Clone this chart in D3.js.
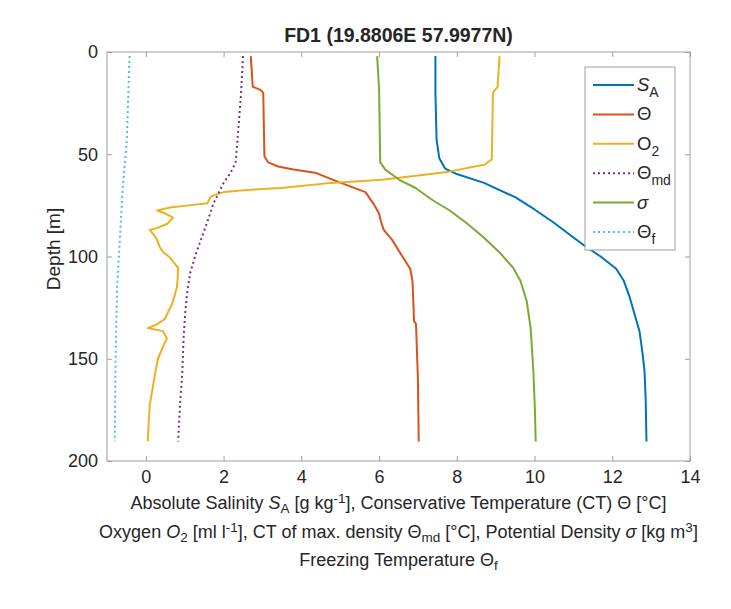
<!DOCTYPE html>
<html>
<head>
<meta charset="utf-8">
<script src="https://cdn.jsdelivr.net/npm/d3@7"></script>
<style>
  body { margin: 0; background: #fff; }
  text { font-family: "Liberation Sans", Arial, sans-serif; fill: #262626; }
</style>
</head>
<body>
<svg id="chart" width="731" height="609"></svg>
<script>
// profiles as [depth (m), value]
const saProfile = [[2, 7.45], [20, 7.45], [43, 7.48], [52, 7.55], [57, 7.7], [59.5, 7.98], [64, 8.7], [71, 9.5],
  [77, 10.0], [83.5, 10.5], [90, 10.95], [94.5, 11.27], [100, 11.7], [106, 12.1], [112, 12.3], [120, 12.45],
  [128, 12.57], [136.5, 12.7], [146, 12.77], [156, 12.83], [170, 12.86], [190.5, 12.88]];
const thetaProfile = [[2, 2.7], [17, 2.75], [18.5, 2.95], [20, 3.02], [51, 3.05], [54, 3.15], [56, 3.4], [57.5, 3.8],
  [59, 4.35], [63.5, 4.95], [68.5, 5.65], [74, 5.85], [79, 6.0], [83, 6.05], [87, 6.12], [92, 6.34],
  [100, 6.6], [106, 6.8], [112, 6.86], [131.5, 6.9], [133, 6.95], [160, 7.0], [190.5, 7.02]];
const o2Profile = [[2, 9.1], [17, 9.05], [20, 8.93], [52.5, 8.9], [55, 8.72], [58.5, 7.8], [60.5, 6.95], [62.5, 6.08],
  [64, 4.78], [66.5, 3.48], [67.5, 2.6], [68.5, 2.0], [70, 1.75], [71, 1.66], [74, 1.58], [75, 1.1], [76, 0.62],
  [77.5, 0.29], [79, 0.5], [81, 0.7], [84, 0.55], [86, 0.3], [87, 0.1], [90.5, 0.25], [92, 0.29], [95.5, 0.36],
  [98, 0.45], [100.5, 0.62], [103, 0.72], [105.5, 0.83], [110, 0.82], [115, 0.8], [123, 0.68], [130.5, 0.49],
  [133, 0.3], [135, 0.05], [136.5, 0.44], [140, 0.54], [145, 0.42], [150, 0.31], [158, 0.23], [165, 0.17],
  [172.5, 0.1], [182, 0.07], [190.5, 0.05]];
const thetaMdProfile = [[2, 2.5], [20, 2.45], [35, 2.39], [54, 2.31], [59, 2.18], [64, 2.0], [74, 1.74], [82, 1.6],
  [88.5, 1.48], [98, 1.3], [108, 1.14], [118, 1.06], [128, 1.01], [140, 0.97], [156, 0.94], [172, 0.88], [190.5, 0.83]];
const sigmaProfile = [[2, 5.95], [18, 6.0], [54, 6.03], [57.5, 6.16], [62.5, 6.52], [66.5, 6.94], [72.5, 7.38],
  [77.5, 7.82], [83.5, 8.24], [90.5, 8.68], [98, 9.1], [105.5, 9.45], [112, 9.64], [122, 9.8], [135, 9.9],
  [156, 9.97], [175, 10.01], [190.5, 10.03]];
const thetaFProfile = [[2, -0.42], [43, -0.49], [67.5, -0.6], [88.5, -0.66], [115, -0.74], [150, -0.78], [190.5, -0.8]];

const xTicks = [0, 2, 4, 6, 8, 10, 12, 14];
const yTicks = [0, 50, 100, 150, 200];

const series = [
  { name: "S", sub: "A", italic: true, data: saProfile, color: "#0072bd", dash: null },
  { name: "\u0398", sub: "", italic: false, data: thetaProfile, color: "#d95319", dash: null },
  { name: "O", sub: "2", italic: false, data: o2Profile, color: "#edb120", dash: null },
  { name: "\u0398", sub: "md", italic: false, data: thetaMdProfile, color: "#7e2f8e", dash: "2,3" },
  { name: "\u03c3", sub: "", italic: true, data: sigmaProfile, color: "#77ac30", dash: null },
  { name: "\u0398", sub: "f", italic: false, data: thetaFProfile, color: "#4dbeee", dash: "2,3" }
];

const svg = d3.select("#chart");
const margin = { top: 52, right: 41, bottom: 148, left: 107 };
const width = +svg.attr("width") - margin.left - margin.right;
const height = +svg.attr("height") - margin.top - margin.bottom;

const g = svg.append("g").attr("transform", `translate(${margin.left},${margin.top})`);

const x = d3.scaleLinear().domain([-1, 14]).range([0, width]);
const y = d3.scaleLinear().domain([0, 200]).range([0, height]);

// axes (box on, ticks inside, mirrored)
const axisColor = "#a0a0a0";
function styleAxis(sel, showText) {
  sel.select(".domain").remove();
  sel.selectAll(".tick line").attr("stroke", axisColor);
  sel.selectAll(".tick text").style("font-size", "18px").attr("fill", "#404040");
  if (!showText) sel.selectAll(".tick text").remove();
}
g.append("g").attr("transform", `translate(0,${height})`)
  .call(d3.axisBottom(x).tickValues(xTicks).tickSize(-5).tickPadding(9))
  .call(s => styleAxis(s, true));
g.append("g")
  .call(d3.axisTop(x).tickValues(xTicks).tickSize(-5))
  .call(s => styleAxis(s, false));
g.append("g")
  .call(d3.axisLeft(y).tickValues(yTicks).tickSize(-5).tickPadding(9))
  .call(s => styleAxis(s, true));
g.append("g").attr("transform", `translate(${width},0)`)
  .call(d3.axisRight(y).tickValues(yTicks).tickSize(-5))
  .call(s => styleAxis(s, false));

g.append("rect")
  .attr("width", width).attr("height", height)
  .attr("fill", "none").attr("stroke", axisColor).attr("stroke-width", 1);

const line = d3.line().x(d => x(d[1])).y(d => y(d[0]));

g.selectAll(".profile")
  .data(series)
  .enter().append("path")
  .attr("class", "profile")
  .attr("d", d => line(d.data))
  .attr("fill", "none")
  .attr("stroke", d => d.color)
  .attr("stroke-width", 2)
  .attr("stroke-dasharray", d => d.dash)
  .attr("stroke-linejoin", "round");

// title
svg.append("text")
  .attr("x", margin.left + width / 2).attr("y", 42)
  .attr("text-anchor", "middle")
  .style("font-size", "19.5px").style("font-weight", "bold")
  .attr("fill", "#111")
  .text("FD1 (19.8806E 57.9977N)");

// y label
svg.append("text")
  .attr("transform", `translate(60,249) rotate(-90)`)
  .attr("text-anchor", "middle")
  .style("font-size", "19px")
  .text("Depth [m]");

// x label, three lines with sub/superscripts
function richLine(yPos, parts) {
  const t = svg.append("text")
    .attr("x", margin.left + width / 2).attr("y", yPos)
    .attr("text-anchor", "middle")
    .style("font-size", "18px");
  parts.forEach(p => {
    const ts = t.append("tspan").text(p.t);
    if (p.i) ts.style("font-style", "italic");
    if (p.sub) ts.attr("baseline-shift", "-30%").style("font-size", "13.5px");
    if (p.sup) ts.attr("baseline-shift", "40%").style("font-size", "13.5px");
  });
}
richLine(509, [
  { t: "Absolute Salinity " }, { t: "S", i: true }, { t: "A", sub: true },
  { t: " [g kg" }, { t: "-1", sup: true }, { t: "], Conservative Temperature (CT) \u0398 [\u00b0C]" }
]);
richLine(538, [
  { t: "Oxygen " }, { t: "O", i: true }, { t: "2", sub: true },
  { t: " [ml l" }, { t: "-1", sup: true }, { t: "], CT of max. density \u0398" }, { t: "md", sub: true },
  { t: " [\u00b0C], Potential Density " }, { t: "\u03c3", i: true }, { t: " [kg m" }, { t: "3", sup: true }, { t: "]" }
]);
richLine(566, [
  { t: "Freezing Temperature \u0398" }, { t: "f", sub: true }
]);

// legend
const legend = svg.append("g").attr("transform", "translate(585,67)");
legend.append("rect")
  .attr("width", 90).attr("height", 183)
  .attr("fill", "#fff").attr("stroke", axisColor);
const item = legend.selectAll(".item")
  .data(series)
  .enter().append("g")
  .attr("class", "item")
  .attr("transform", (d, i) => `translate(0,${18 + i * 29.4})`);
item.append("line")
  .attr("x1", 8).attr("x2", 49)
  .attr("stroke", d => d.color).attr("stroke-width", 2)
  .attr("stroke-dasharray", d => d.dash);
const lt = item.append("text")
  .attr("x", 52).attr("y", 6)
  .style("font-size", "18.5px");
lt.append("tspan").text(d => d.name).style("font-style", d => d.italic ? "italic" : "normal");
lt.append("tspan").text(d => d.sub).attr("baseline-shift", "-40%").style("font-size", "14px");
</script>
</body>
</html>
